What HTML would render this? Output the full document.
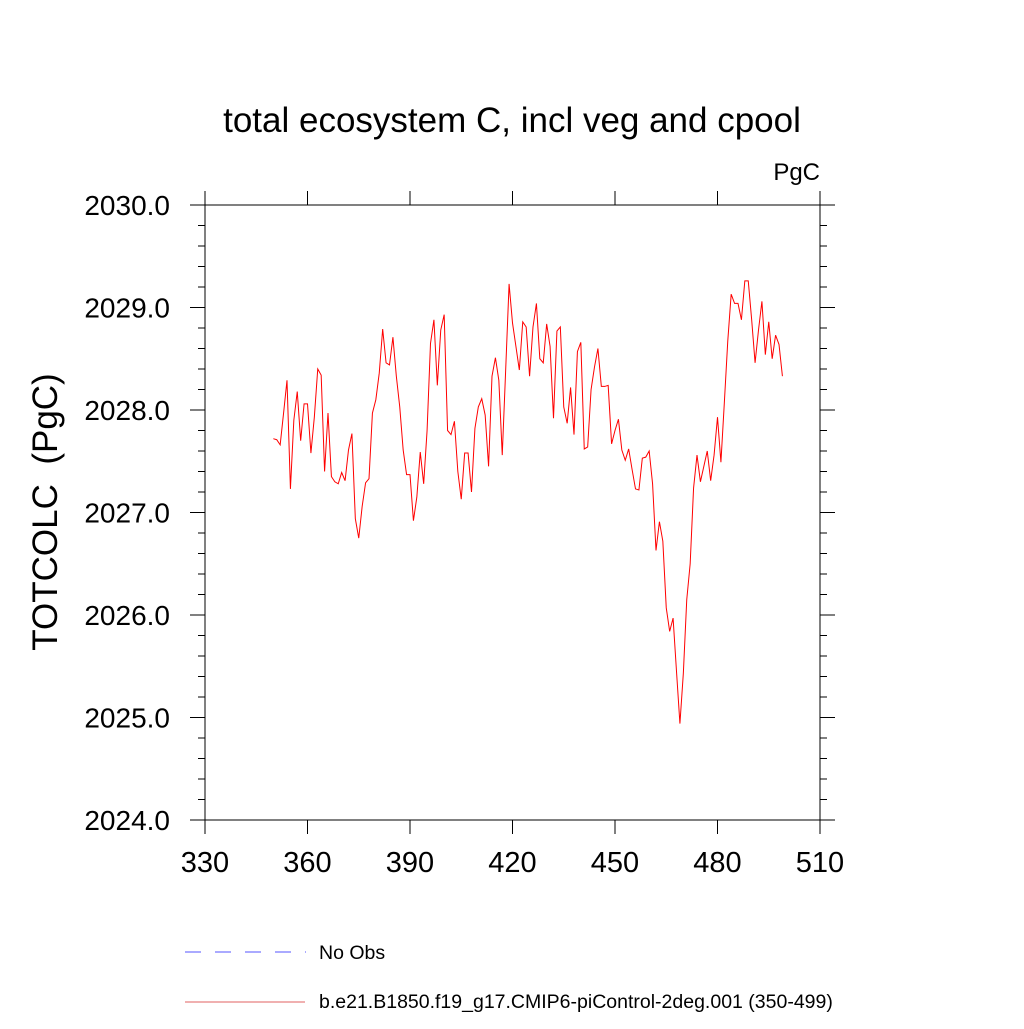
<!DOCTYPE html>
<html><head><meta charset="utf-8"><style>
body{margin:0;background:#fff}
svg text{font-family:"Liberation Sans",sans-serif;fill:#000}
</style></head><body>
<svg id="c" width="1024" height="1024" xmlns="http://www.w3.org/2000/svg">
<text x="512" y="132" font-size="35" text-anchor="middle">total ecosystem C, incl veg and cpool</text>
<text x="820" y="180" font-size="24" text-anchor="end">PgC</text>
<text transform="translate(57,512) rotate(-90)" font-size="35" text-anchor="middle" xml:space="preserve" style="white-space:pre">TOTCOLC  (PgC)</text>
<g id="axes"></g>
<path id="series" fill="none" stroke="#ff0000" stroke-width="1"></path>
<line x1="185" y1="952" x2="306" y2="952" stroke="#5555ff" stroke-width="1" stroke-dasharray="16,14"/>
<text x="319" y="959" font-size="19.5">No Obs</text>
<line x1="185" y1="1002" x2="305" y2="1002" stroke="#e06060" stroke-width="1"/>
<text x="319" y="1008" font-size="19.5">b.e21.B1850.f19_g17.CMIP6-piControl-2deg.001 (350-499)</text>
</svg>
<script>
const xTicks=[330,360,390,420,450,480,510];
const yTicks=[2024,2025,2026,2027,2028,2029,2030];
const yTickLabels=["2024.0","2025.0","2026.0","2027.0","2028.0","2029.0","2030.0"];
const startYear=350;
const values=[2027.72,2027.71,2027.66,2027.97,2028.29,2027.23,2027.90,2028.18,2027.70,2028.06,
2028.06,2027.58,2027.93,2028.40,2028.34,2027.40,2027.97,2027.35,2027.30,2027.28,
2027.39,2027.31,2027.61,2027.77,2026.94,2026.75,2027.06,2027.29,2027.33,2027.97,
2028.10,2028.36,2028.79,2028.46,2028.44,2028.71,2028.33,2028.03,2027.61,2027.37,
2027.37,2026.92,2027.15,2027.59,2027.28,2027.80,2028.65,2028.88,2028.24,2028.78,
2028.93,2027.80,2027.76,2027.89,
2027.40,2027.13,2027.58,2027.58,2027.20,2027.82,2028.03,2028.11,2027.95,2027.45,
2028.33,2028.51,2028.29,2027.56,2028.39,2029.23,2028.85,2028.62,2028.39,2028.86,
2028.81,2028.33,2028.81,2029.04,2028.50,2028.46,2028.84,2028.62,2027.92,2028.77,
2028.81,2028.03,2027.87,2028.22,2027.76,2028.57,2028.66,2027.62,2027.64,2028.20,
2028.42,2028.60,2028.23,2028.23,2028.24,2027.67,2027.80,2027.91,2027.61,2027.51,
2027.62,2027.42,2027.23,2027.22,2027.53,2027.54,
2027.60,
2027.28,2026.63,2026.91,2026.72,2026.07,2025.84,2025.97,2025.45,2024.94,2025.43,
2026.15,2026.50,2027.24,2027.56,2027.30,2027.45,2027.60,2027.31,2027.56,2027.93,
2027.49,2028.07,2028.67,2029.13,2029.04,2029.04,2028.88,2029.26,2029.26,2028.88,
2028.46,2028.78,2029.06,2028.54,2028.86,2028.50,2028.73,2028.64,2028.33];
const L=205,R=820,T=205,B=820,x0=330,x1=510,y0=2024,y1=2030;
const X=v=>L+(v-x0)/(x1-x0)*(R-L);
const Y=v=>B-(v-y0)/(y1-y0)*(B-T);
const NS="http://www.w3.org/2000/svg";
const g=document.getElementById('axes');
function ln(a,b,c,d,name){const e=document.createElementNS(NS,'line');
e.setAttribute('x1',a);e.setAttribute('y1',b);e.setAttribute('x2',c);e.setAttribute('y2',d);
e.setAttribute('stroke','#000');e.setAttribute('stroke-width','1');


g.appendChild(e);return e;}
function tx(x,y,s,anchor,size,name){const e=document.createElementNS(NS,'text');
e.setAttribute('x',x);e.setAttribute('y',y);e.setAttribute('font-size',size);e.setAttribute('text-anchor',anchor);
e.textContent=s;


g.appendChild(e);}
const fr=document.createElementNS(NS,'rect');
fr.setAttribute('x',L);fr.setAttribute('y',T);fr.setAttribute('width',R-L);fr.setAttribute('height',B-T);
fr.setAttribute('fill','none');fr.setAttribute('stroke','#000');


g.appendChild(fr);
xTicks.forEach(v=>{const x=X(v);ln(x,B,x,B+14,'x-tick');ln(x,T,x,T-14,'x-tick-top');tx(x,B+52,String(v),'middle','29','x-tick-label');});
yTicks.forEach((v,i)=>{const y=Y(v);ln(L-15,y,L,y,'y-tick');ln(R,y,R+15,y,'y-tick-right');tx(L-35,y+10,yTickLabels[i],'end','28','y-tick-label');});
for(let i=0;i<30;i++){if(i%5===0)continue;const y=Y(y0+i*0.2);ln(L-7,y,L,y,'y-minor-tick');ln(R,y,R+7,y,'y-minor-tick-right');}
let d='';values.forEach((v,i)=>{d+=(i?'L':'M')+X(startYear+i).toFixed(2)+','+Y(v).toFixed(2);});
document.getElementById('series').setAttribute('d',d);
</script>
</body></html>
